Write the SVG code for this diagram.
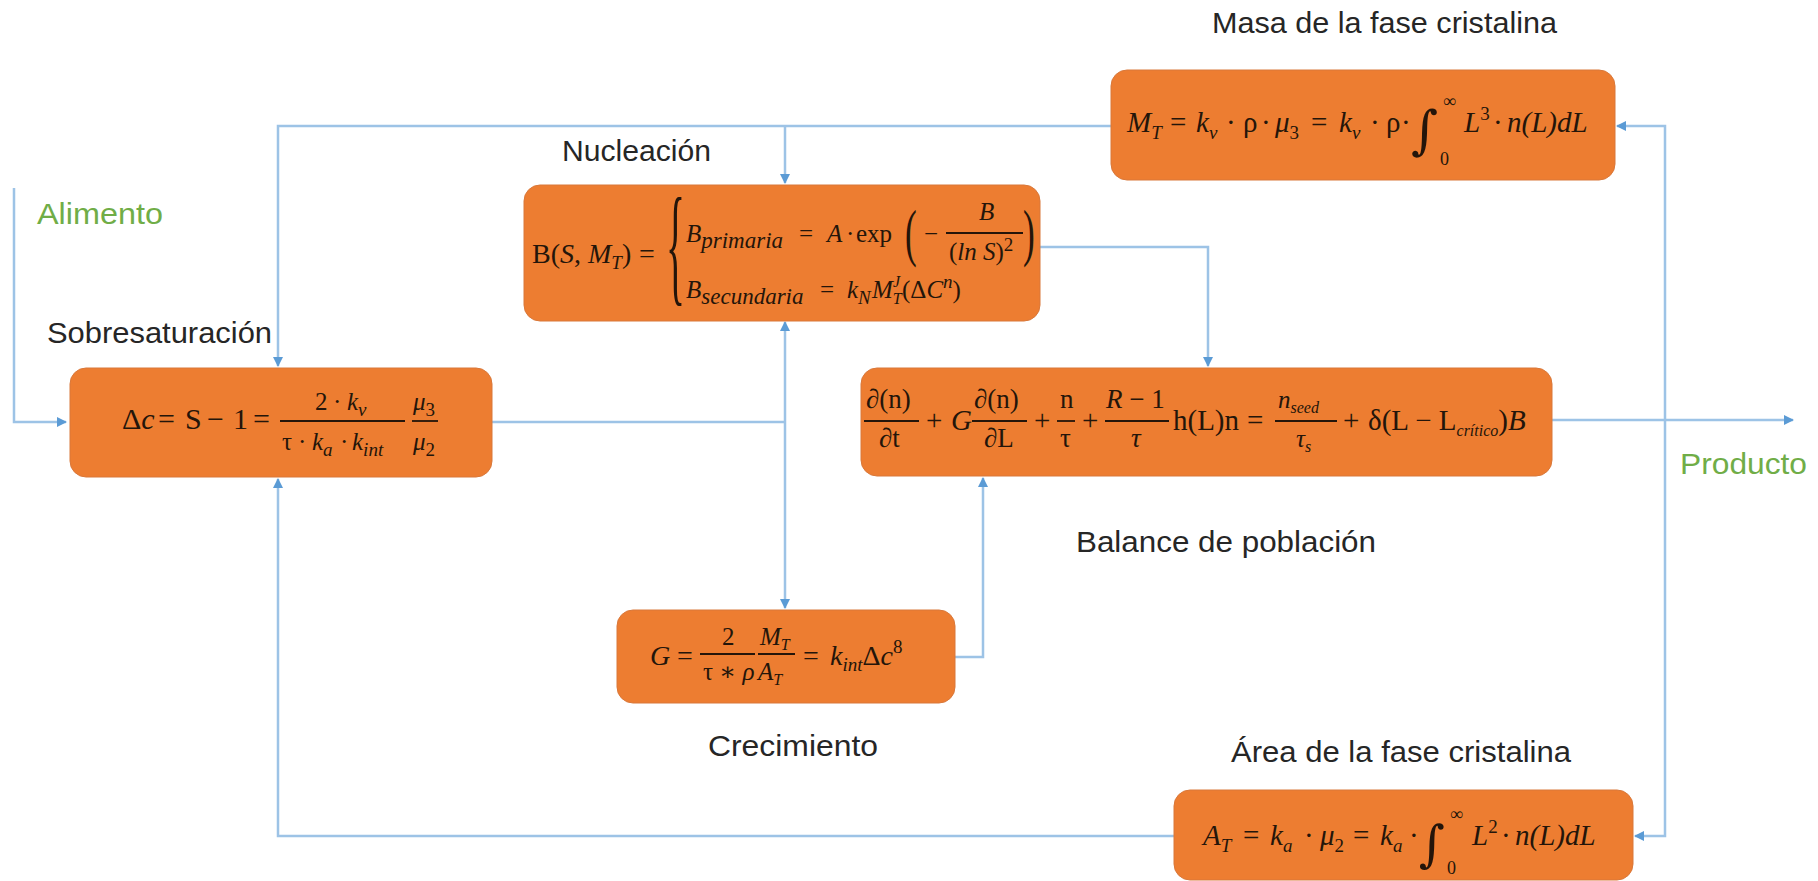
<svg xmlns="http://www.w3.org/2000/svg" width="1818" height="881" viewBox="0 0 1818 881">
<defs>
<marker id="ar" viewBox="0 0 10 10" refX="9" refY="5" markerWidth="10" markerHeight="10" markerUnits="userSpaceOnUse" orient="auto-start-reverse">
<path d="M0,0 L10,5 L0,10 z" fill="#5B9BD5"/>
</marker>
<style>
.box{fill:#ED7D31;stroke:#D9783A;stroke-width:1}
.lbl{font-family:"Liberation Sans",Arial,sans-serif;font-size:30px;fill:#262626}
.grn{font-family:"Liberation Sans",Arial,sans-serif;font-size:30px;fill:#70AD47}
.i{font-family:"Liberation Serif","DejaVu Serif",serif;font-style:italic;font-size:29px;fill:#24150a}
.u{font-family:"Liberation Serif","DejaVu Serif",serif;font-size:29px;fill:#24150a}
.fi{font-family:"Liberation Serif","DejaVu Serif",serif;font-style:italic;font-size:25px;fill:#24150a}
.fu{font-family:"Liberation Serif","DejaVu Serif",serif;font-size:25px;fill:#24150a}
.sb{font-size:19px}
.sl{font-size:23px}
.ss{font-size:16px}
.it{font-style:italic}
.up{font-style:normal}
.bar{stroke:#24150a;stroke-width:1.8}
.big{font-family:"DejaVu Serif",serif;fill:#24150a}
.lim{font-family:"Liberation Serif",serif;font-style:normal;font-size:18px;fill:#24150a}
.cn{fill:none;stroke:#9DC3E6;stroke-width:2.5}
</style>
</defs>

<g id="connectors">
<path class="cn" d="M14,188 V422 H66" marker-end="url(#ar)"/>
<path class="cn" d="M1111,126 H278 V366" marker-end="url(#ar)"/>
<path class="cn" d="M785,126 V183" marker-end="url(#ar)"/>
<path class="cn" d="M1040,247 H1208 V366" marker-end="url(#ar)"/>
<path class="cn" d="M492,422 H785"/>
<path class="cn" d="M785,422 V322" marker-end="url(#ar)"/>
<path class="cn" d="M785,422 V608" marker-end="url(#ar)"/>
<path class="cn" d="M955,657 H983 V478" marker-end="url(#ar)"/>
<path class="cn" d="M1552,420 H1793" marker-end="url(#ar)"/>
<path class="cn" d="M1617,126 H1665 V836 H1635" marker-start="url(#ar)" marker-end="url(#ar)"/>
<path class="cn" d="M1174,836 H278 V479" marker-end="url(#ar)"/>
</g>

<g id="label-alimento"><text class="grn" x="37" y="224" textLength="126" lengthAdjust="spacingAndGlyphs">Alimento</text></g>
<g id="label-producto"><text class="grn" x="1680" y="474" textLength="127" lengthAdjust="spacingAndGlyphs">Producto</text></g>

<g id="node-masa">
<text class="lbl" x="1212" y="33" textLength="345" lengthAdjust="spacingAndGlyphs">Masa de la fase cristalina</text>
<rect class="box" x="1111" y="70" width="504" height="110" rx="16"/>
<text class="i" x="1127" y="132">M<tspan class="sb" dy="7">T</tspan></text>
<text class="u" x="1170" y="132">=</text>
<text class="i" x="1196" y="132">k<tspan class="sb" dy="7">v</tspan></text>
<text class="u" x="1226" y="132">·</text>
<text class="u" x="1243" y="132">ρ</text>
<text class="u" x="1261" y="132">·</text>
<text class="i" x="1275" y="132">μ<tspan class="sb up" dy="7">3</tspan></text>
<text class="u" x="1311" y="132">=</text>
<text class="i" x="1339" y="132">k<tspan class="sb" dy="7">v</tspan></text>
<text class="u" x="1370" y="132">·</text>
<text class="u" x="1386" y="132">ρ</text>
<text class="u" x="1401" y="132">·</text>
<text class="big" x="1411" y="148" style="font-size:52px">∫</text>
<text class="lim" x="1443" y="107">∞</text>
<text class="lim" x="1440" y="165">0</text>
<text class="i" x="1464" y="132">L<tspan class="sb up" dy="-12">3</tspan></text>
<text class="u" x="1493" y="132">·</text>
<text class="i" x="1507" y="132">n(L)dL</text>
</g>

<g id="node-nucleacion">
<text class="lbl" x="562" y="161" textLength="149" lengthAdjust="spacingAndGlyphs">Nucleación</text>
<rect class="box" x="524" y="185" width="516" height="136" rx="16"/>
<text class="u" x="532" y="263" style="font-size:28px">B(<tspan class="it">S</tspan>, <tspan class="it">M</tspan><tspan class="sb it" dy="6">T</tspan><tspan dy="-6">)</tspan></text>
<text class="u" x="639" y="263" style="font-size:28px">=</text>
<text class="u" transform="translate(666,288) scale(0.3,1)" style="font-size:132px">{</text>
<text class="fi" x="686" y="242">B<tspan class="sl" dy="6">primaria</tspan></text>
<text class="fu" x="799" y="242">=</text>
<text class="fi" x="827" y="242">A</text>
<text class="fu" x="846" y="242">·</text>
<text class="fu" x="856" y="242">exp</text>
<text class="u" transform="translate(905,254) scale(0.55,1)" style="font-size:64px">(</text>
<text class="fu" x="924" y="242">−</text>
<text class="fi" x="979" y="220">B</text>
<line class="bar" x1="946" y1="233" x2="1023" y2="233"/>
<text class="fu" x="949" y="260">(<tspan class="it">ln S</tspan>)<tspan class="sb" dy="-9">2</tspan></text>
<text class="u" transform="translate(1023,254) scale(0.55,1)" style="font-size:64px">)</text>
<text class="fi" x="686" y="298">B<tspan class="sl" dy="6">secundaria</tspan></text>
<text class="fu" x="820" y="298">=</text>
<text class="fi" x="847" y="298">k<tspan class="sb" dy="6">N</tspan></text>
<text class="fi" x="872" y="298">M<tspan class="ss" dy="6">T</tspan></text>
<text class="fi ss" x="893" y="287">J</text>
<text class="fu" x="902" y="298">(Δ<tspan class="it">C</tspan><tspan class="sb it" dy="-10">n</tspan><tspan dy="10">)</tspan></text>
</g>

<g id="node-sobresaturacion">
<text class="lbl" x="47" y="343" textLength="225" lengthAdjust="spacingAndGlyphs">Sobresaturación</text>
<rect class="box" x="70" y="368" width="422" height="109" rx="16"/>
<text class="u" x="122" y="429" style="font-size:30px">Δ<tspan class="it">c</tspan></text>
<text class="u" x="158" y="429" style="font-size:30px">=</text>
<text class="u" x="185" y="429" style="font-size:30px">S</text>
<text class="u" x="207" y="429" style="font-size:30px">−</text>
<text class="u" x="233" y="429" style="font-size:30px">1</text>
<text class="u" x="253" y="429" style="font-size:30px">=</text>
<line class="bar" x1="280" y1="421" x2="405" y2="421"/>
<text class="fu" x="315" y="410">2</text>
<text class="fu" x="333" y="410">·</text>
<text class="fi" x="347" y="410">k<tspan class="sb" dy="6">v</tspan></text>
<text class="fu" x="282" y="450">τ</text>
<text class="fu" x="298" y="450">·</text>
<text class="fi" x="312" y="450">k<tspan class="sb" dy="6">a</tspan></text>
<text class="fu" x="340" y="450">·</text>
<text class="fi" x="352" y="450">k<tspan class="sb" dy="6">int</tspan></text>
<line class="bar" x1="412" y1="421" x2="438" y2="421"/>
<text class="fi" x="413" y="410">μ<tspan class="sb up" dy="6">3</tspan></text>
<text class="fi" x="413" y="450">μ<tspan class="sb up" dy="6">2</tspan></text>
</g>

<g id="node-balance">
<text class="lbl" x="1076" y="552" textLength="300" lengthAdjust="spacingAndGlyphs">Balance de población</text>
<rect class="box" x="861" y="368" width="691" height="108" rx="16"/>
<line class="bar" x1="864" y1="421" x2="919" y2="421"/>
<text class="fu" x="866" y="408" style="font-size:27px">∂(n)</text>
<text class="fu" x="879" y="447" style="font-size:27px">∂t</text>
<text class="u" x="926" y="430">+</text>
<text class="i" x="951" y="430">G</text>
<line class="bar" x1="972" y1="421" x2="1027" y2="421"/>
<text class="fu" x="974" y="408" style="font-size:27px">∂(n)</text>
<text class="fu" x="984" y="447" style="font-size:27px">∂L</text>
<text class="u" x="1034" y="430">+</text>
<line class="bar" x1="1057" y1="421" x2="1075" y2="421"/>
<text class="fu" x="1060" y="408" style="font-size:27px">n</text>
<text class="fu" x="1060" y="447" style="font-size:27px">τ</text>
<text class="u" x="1082" y="430">+</text>
<line class="bar" x1="1105" y1="421" x2="1169" y2="421"/>
<text class="fu" x="1106" y="408" style="font-size:27px"><tspan class="it">R</tspan> − 1</text>
<text class="fi" x="1131" y="447" style="font-size:27px">τ</text>
<text class="u" x="1173" y="430">h(L)n</text>
<text class="u" x="1247" y="430">=</text>
<line class="bar" x1="1275" y1="421" x2="1337" y2="421"/>
<text class="fi" x="1278" y="408">n<tspan class="ss" dy="5">seed</tspan></text>
<text class="fi" x="1296" y="447">τ<tspan class="ss" dy="5">s</tspan></text>
<text class="u" x="1343" y="430">+</text>
<text class="u" x="1368" y="430">δ(L − L<tspan class="ss it" dy="6">crítico</tspan><tspan dy="-6">)</tspan><tspan class="it">B</tspan></text>
</g>

<g id="node-crecimiento">
<text class="lbl" x="708" y="756" textLength="170" lengthAdjust="spacingAndGlyphs">Crecimiento</text>
<rect class="box" x="617" y="610" width="338" height="93" rx="16"/>
<text class="i" x="650" y="665" style="font-size:28px">G</text>
<text class="u" x="677" y="665" style="font-size:28px">=</text>
<line class="bar" x1="700" y1="654" x2="755" y2="654"/>
<text class="fu" x="722" y="645">2</text>
<text class="fu" x="703" y="680">τ ∗ <tspan class="it">ρ</tspan></text>
<line class="bar" x1="758" y1="654" x2="795" y2="654"/>
<text class="fi" x="760" y="645">M<tspan class="ss" dy="5">T</tspan></text>
<text class="fi" x="758" y="680">A<tspan class="ss" dy="5">T</tspan></text>
<text class="u" x="803" y="665" style="font-size:28px">=</text>
<text class="i" x="830" y="665" style="font-size:28px">k<tspan class="sb" dy="6">int</tspan><tspan class="up" dy="-6">Δ</tspan>c<tspan class="sb up" dy="-12">8</tspan></text>
</g>

<g id="node-area">
<text class="lbl" x="1231" y="762" textLength="340" lengthAdjust="spacingAndGlyphs">Área de la fase cristalina</text>
<rect class="box" x="1174" y="790" width="459" height="90" rx="16"/>
<text class="i" x="1203" y="845">A<tspan class="sb" dy="7">T</tspan></text>
<text class="u" x="1243" y="845">=</text>
<text class="i" x="1270" y="845">k<tspan class="sb" dy="7">a</tspan></text>
<text class="u" x="1304" y="845">·</text>
<text class="i" x="1320" y="845">μ<tspan class="sb up" dy="7">2</tspan></text>
<text class="u" x="1353" y="845">=</text>
<text class="i" x="1380" y="845">k<tspan class="sb" dy="7">a</tspan></text>
<text class="u" x="1409" y="845">·</text>
<text class="big" x="1419" y="861" style="font-size:50px">∫</text>
<text class="lim" x="1450" y="820">∞</text>
<text class="lim" x="1447" y="874">0</text>
<text class="i" x="1472" y="845">L<tspan class="sb up" dy="-12">2</tspan></text>
<text class="u" x="1501" y="845">·</text>
<text class="i" x="1515" y="845">n(L)dL</text>
</g>
</svg>
